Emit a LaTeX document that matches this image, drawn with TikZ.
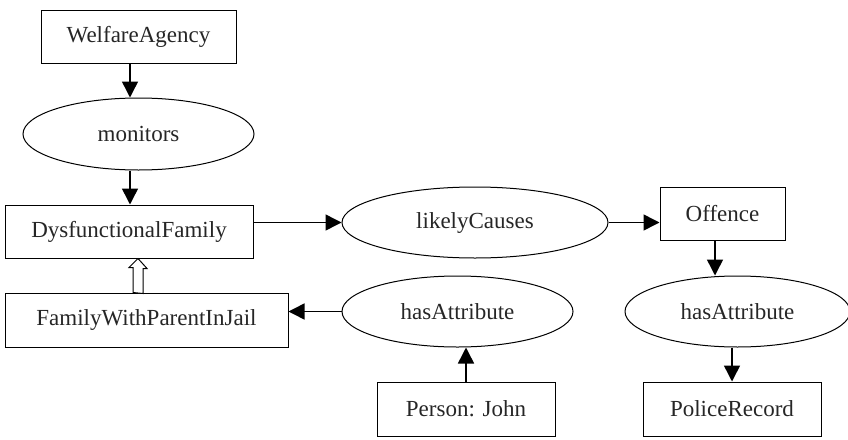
\documentclass[tikz,border=0pt]{standalone}
\usepackage{fontspec}
\setmainfont{Liberation Serif}
\usetikzlibrary{shapes.geometric,arrows.meta}
\begin{document}
\begin{tikzpicture}[x=1pt,y=-1pt,
  every node/.style={font=\fontsize{23}{27}\selectfont, inner sep=0pt, text=black!85},
  cls/.style={draw, line width=1pt, rectangle},
  rel/.style={draw, line width=1pt, ellipse},
  conn/.style={line width=1.5pt, -{Triangle[length=16pt,width=16pt]}}]
\useasboundingbox (0,0) rectangle (848,439);
\node[cls, minimum width=195, minimum height=53] (wa) at (138.5,36.5) {WelfareAgency};
\node[rel, minimum width=231, minimum height=72] (mon) at (138.5,134) {monitors};
\node[cls, minimum width=248, minimum height=53] (df) at (129,231.5) {DysfunctionalFamily};
\node[cls, minimum width=283, minimum height=54] (fw) at (146.5,320) {FamilyWithParentInJail};
\node[rel, minimum width=266, minimum height=71] (lc) at (475,222.5) {likelyCauses};
\node[cls, minimum width=125, minimum height=53] (off) at (722.5,213.5) {Offence};
\node[rel, minimum width=231, minimum height=71] (ha1) at (457.5,311.5) {hasAttribute};
\node[rel, minimum width=225, minimum height=71] (ha2) at (737.5,311.5) {hasAttribute};
\node[cls, minimum width=178, minimum height=54] (pj) at (466,409) {Person: John};
\node[cls, minimum width=178, minimum height=54] (pr) at (732,409) {PoliceRecord};

\draw[conn] ([xshift=-8.5]wa.south) -- ([xshift=-8.5]mon.north);
\draw[conn] ([xshift=-8.5]mon.south) -- ([xshift=-8.5]mon.south |- df.north);
\draw[conn] (df.east |- lc.west) -- (lc.west);
\draw[conn] (lc.east) -- (lc.east -| off.west);
\draw[conn] ([xshift=-7.5]off.south) -- ([xshift=-7.5]off.south |- ha2.north);
\draw[conn] (pr.north |- ha2.south) -- (pr.north);
\draw[conn] (pj.north) -- (pj.north |- ha1.south);
\draw[conn] (ha1.west) -- (ha1.west -| fw.east);
\coordinate (gen) at ([xshift=-8.5]fw.north);
\draw[line width=1pt, fill=white, line join=miter] ([xshift=-5]gen) -- ++(0,-25) -- ++(-4,0) -- (gen |- df.south) -- ++(9,10) -- ++(-4,0) -- ++(0,25) -- cycle;
\end{tikzpicture}
\end{document}
